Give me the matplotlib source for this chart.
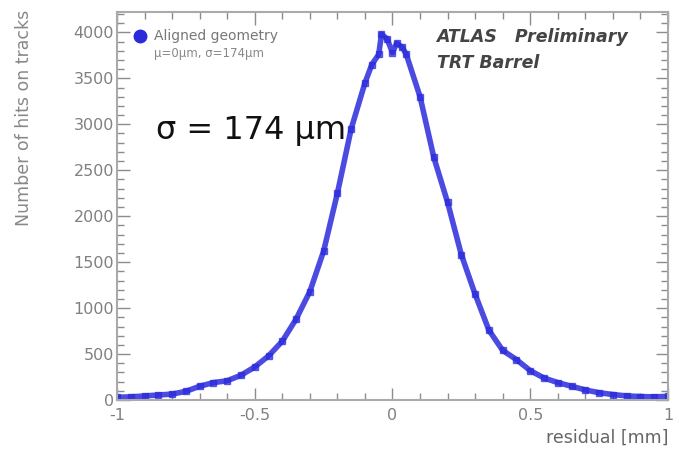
import matplotlib.pyplot as plt
from matplotlib.ticker import MultipleLocator
import numpy as np

# residual bins (mm) and hit counts
residual = [-1.00, -0.95, -0.90, -0.85, -0.80, -0.75, -0.70, -0.65, -0.60, -0.55,
            -0.50, -0.45, -0.40, -0.35, -0.30, -0.25, -0.20, -0.15, -0.10, -0.075,
            -0.05, -0.04, -0.02, 0.00, 0.015, 0.035, 0.05, 0.10, 0.15, 0.20,
            0.25, 0.30, 0.35, 0.40, 0.45, 0.50, 0.55, 0.60, 0.65, 0.70,
            0.75, 0.80, 0.85, 0.90, 0.95, 1.00]
hits = [30, 35, 45, 55, 65, 95, 150, 190, 210, 270,
        360, 480, 640, 880, 1180, 1620, 2250, 2950, 3450, 3650,
        3760, 3980, 3930, 3780, 3880, 3840, 3760, 3300, 2640, 2150,
        1580, 1150, 760, 540, 440, 320, 240, 190, 150, 110,
        80, 60, 45, 38, 35, 40]

yticks = [0, 500, 1000, 1500, 2000, 2500, 3000, 3500, 4000]
xticks = [-1, -0.5, 0, 0.5, 1]
xticklabels = ['-1', '-0.5', '0', '0.5', '1']

blue = '#2b2bdc'
gray = '#8c8c8c'

fig = plt.figure(figsize=(6.79, 4.49), dpi=100)
ax = fig.add_axes([0.1723, 0.109, 0.8115, 0.864])

ax.plot(residual, hits, '-', color=blue, lw=4, alpha=0.85, solid_capstyle='round')
ax.plot(residual, hits, 's', color=blue, ms=4.5, alpha=0.7)

ax.set_xlim(-1, 1)
ax.set_ylim(0, 4220)
ax.set_xticks(xticks)
ax.set_xticklabels(xticklabels)
ax.set_yticks(yticks)
ax.xaxis.set_minor_locator(MultipleLocator(0.1))
ax.yaxis.set_minor_locator(MultipleLocator(100))
ax.tick_params(which='both', direction='in', top=True, right=True,
               colors=gray, labelcolor='#808080', labelsize=11.5)
ax.tick_params(which='major', length=9, width=1)
ax.tick_params(which='minor', length=5, width=1)
ax.tick_params(axis='x', pad=6)
ax.tick_params(axis='y', pad=2)
for s in ax.spines.values():
    s.set_color('#aaaaaa')
    s.set_linewidth(1.5)

ax.set_ylabel('Number of hits on tracks', color='#888888', fontsize=12.5, loc='top')
ax.set_xlabel('residual [mm]', color='#666666', fontsize=12.5, loc='right', labelpad=4)
ax.yaxis.set_label_coords(-0.152, 1.005)

# legend entry
ax.plot([-0.917], [3957], 'o', color=blue, ms=9, clip_on=False)
ax.text(-0.865, 3957, 'Aligned geometry', color='#777777', fontsize=10, va='center')
ax.text(-0.865, 3772, 'μ=0μm, σ=174μm', color='#888888', fontsize=8.5, va='center')

ax.text(0.16, 3946, 'ATLAS   Preliminary', color='#444444', fontsize=12.5,
        style='italic', fontweight='bold', va='center')
ax.text(0.16, 3663, 'TRT Barrel', color='#444444', fontsize=12.5,
        style='italic', fontweight='bold', va='center')

ax.text(-0.86, 2935, 'σ = 174 μm', color='#111111', fontsize=23, va='center')

fig.savefig('out.png', dpi=100)
